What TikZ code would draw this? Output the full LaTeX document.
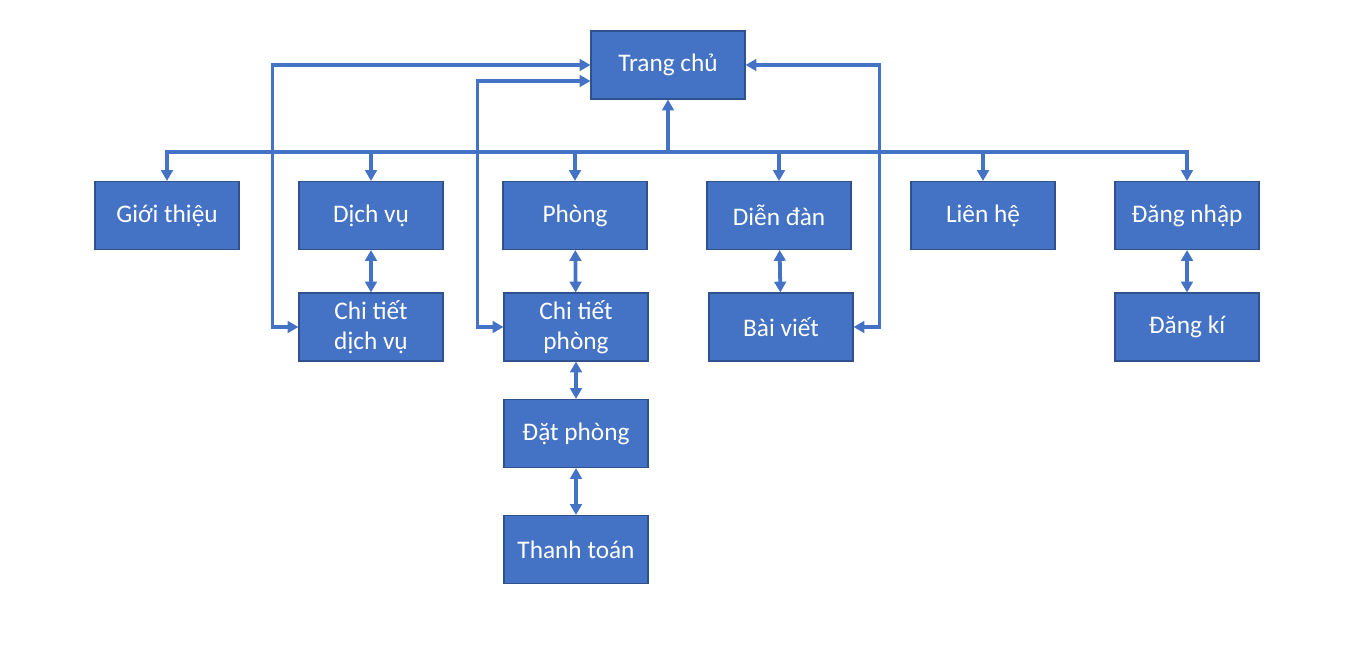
\documentclass[tikz,border=0pt]{standalone}
\usepackage{fontspec}
\setmainfont{Carlito}
\usetikzlibrary{arrows.meta,positioning}
\definecolor{boxblue}{HTML}{4472C4}
\definecolor{boxline}{HTML}{2F528F}
\tikzset{page/.style={rectangle,draw=boxline,line width=0.75pt,fill=boxblue,text=white,minimum width=3.6cm,minimum height=1.7cm,inner sep=0pt,align=center,font=\fontsize{18}{21.5}\selectfont}}
\tikzset{link/.style={draw=boxblue,line width=2.7pt}}
\tikzset{>={Triangle[length=2.7mm,width=2.9mm]}}

\begin{document}
\begin{tikzpicture}[node distance=5.1cm,on grid]
    \useasboundingbox (0,0) rectangle (33.8,-16.175);
    \node[page,minimum width=3.85cm] (home) at (16.7,-1.625) {Trang chủ};
    \node[page] (phong) at (14.375,-5.3875) {Phòng};
    \node[page,left=of phong] (dichvu) {Dịch vụ};
    \node[page,left=of dichvu] (gioithieu) {Giới thiệu};
    \node[page,right=of phong] (diendan) {Diễn đàn};
    \node[page,right=of diendan] (lienhe) {Liên hệ};
    \node[page,right=of lienhe] (dangnhap) {Đăng nhập};

    \node[page,below=2.7875cm of dichvu] (ctdichvu) {Chi tiết\\dịch vụ};
    \node[page,below=2.7875cm of phong,xshift=0.025cm] (ctphong) {Chi tiết\\phòng};
    \node[page,below=2.7875cm of diendan,xshift=0.05cm] (baiviet) {Bài viết};
    \node[page,below=2.7875cm of dangnhap] (dangki) {Đăng kí};
    \node[page,below=2.6625cm of ctphong] (datphong) {Đặt phòng};
    \node[page,below=2.9cm of datphong] (thanhtoan) {Thanh toán};

    \coordinate (bus) at (0,-3.8);
        \path[link,line cap=rect] (gioithieu |- bus) -- (dangnhap |- bus);
        \path[link,->] (home |- bus) -- (home.south);
        \foreach \n in {gioithieu,dichvu,phong,diendan,lienhe,dangnhap}
            \path[link,->] (\n |- bus) -- (\n.north);

        \path[link,<->] (dichvu) -- (ctdichvu);
        \path[link,<->] (phong) -- (ctphong);
        \path[link,<->] (diendan) -- (baiviet);
        \path[link,<->] (ctphong) -- (datphong);
        \path[link,<->] (datphong) -- (thanhtoan);
        \path[link,<->] (dangnhap) -- (dangki);

        \path[link,<->] (ctdichvu.west) -- ++(-0.65,0) |- (home.west);
        \path[link,<->] (ctphong.west) -- ++(-0.65,0) |- ([yshift=-0.4cm]home.west);
        \path[link,<->] (baiviet.east) -- ++(0.65,0) |- (home.east);
\end{tikzpicture}
\end{document}
